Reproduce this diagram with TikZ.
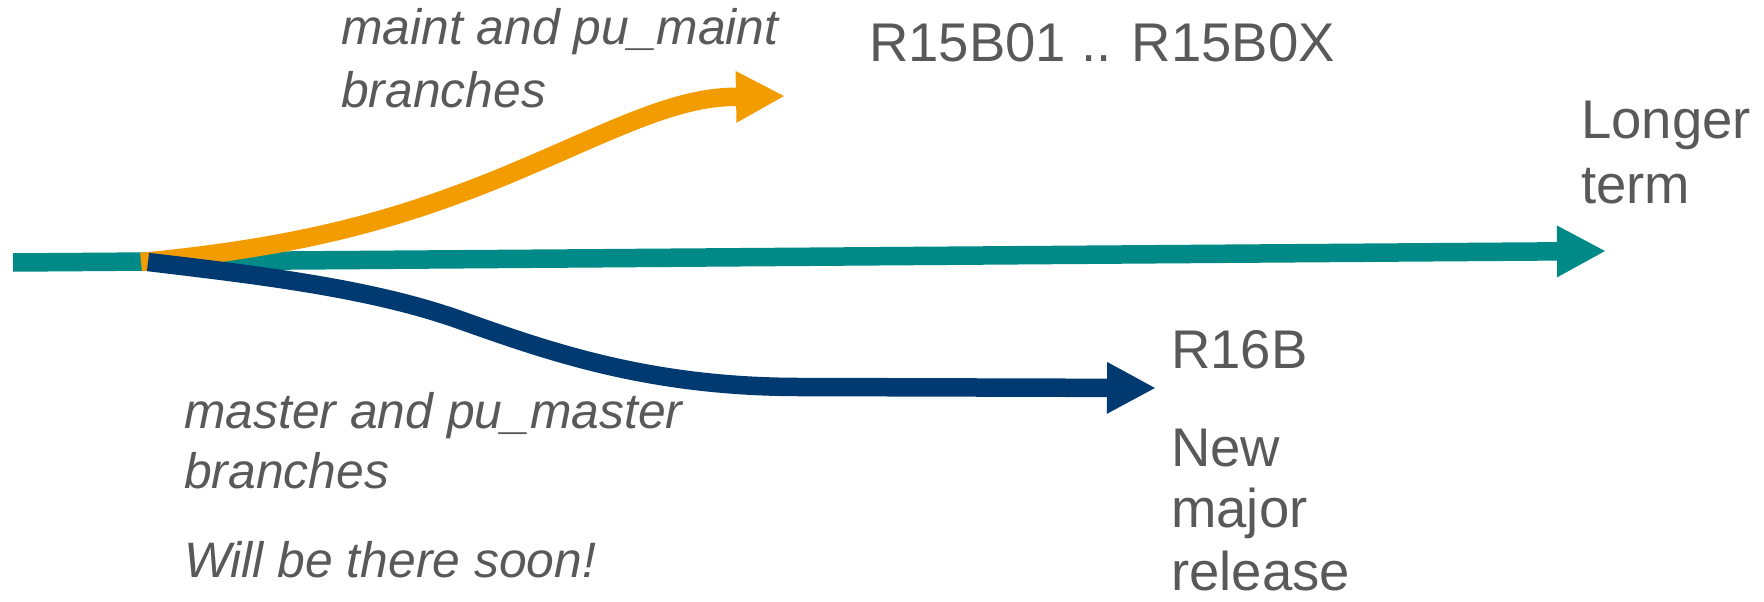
\documentclass[tikz,border=0pt]{standalone}
\usepackage{fontspec}
\setmainfont{Liberation Sans}
\usetikzlibrary{arrows.meta}
\definecolor{cTeal}{HTML}{008A87}
\definecolor{cOrange}{HTML}{F39C00}
\definecolor{cNavy}{HTML}{003A70}
\definecolor{cText}{HTML}{595959}
\begin{document}
\begin{tikzpicture}[x=1pt,y=-1pt,
  branch/.style={line width=18.5pt,-{Triangle[length=49pt,width=48pt]}},
  lbl/.style={anchor=base west,inner sep=0pt,text=cText,font=\fontsize{54.5}{60}\selectfont},
  ilbl/.style={anchor=base west,inner sep=0pt,text=cText,font=\fontsize{49.8}{60}\selectfont\itshape}]
\useasboundingbox (0,0) rectangle (1764,602);
% coordinates
\coordinate (tS) at (13,262.5);
\coordinate (tE) at (1606,251);
\coordinate (oS) at (141,262);
\coordinate (oM) at (495,180);
\coordinate (oB) at (728,97);
\coordinate (oE) at (785,96);
\coordinate (nS) at (148,262);
\coordinate (nM) at (460,320);
\coordinate (nB) at (800,387);
\coordinate (nE) at (1156,388);
% branches
\draw[branch,cTeal] (tS) -- (tE);
\draw[branch,cOrange] (oS) .. controls (300,247) and (395,220) .. (oM)
  .. controls (600,137) and (665,100) .. (oB) -- (oE);
\draw[branch,cNavy] (nS) .. controls (257,275) and (370,288) .. (nM)
  .. controls (550,352) and (650,387) .. (nB) -- (nE);
% labels
\node[ilbl] (m1) at (341,45) {maint and pu\_maint};
\node[ilbl] (m2) at (341,107) {branches};
\node[lbl] (r15) at (869,62) {R15B01 .. R15B0X};
\node[lbl] (lt1) at (1581,138) {Longer};
\node[lbl] (lt2) at (1581,203) {term};
\node[lbl] (r16) at (1171,368) {R16B};
\node[lbl] (nm1) at (1171,466) {New};
\node[lbl] (nm2) at (1171,527) {major};
\node[lbl] (nm3) at (1171,590) {release};
\node[ilbl] (ms1) at (184,428) {master and pu\_master};
\node[ilbl] (ms2) at (184,488) {branches};
\node[ilbl] (ws) at (184,577) {Will be there soon!};
\end{tikzpicture}
\end{document}
